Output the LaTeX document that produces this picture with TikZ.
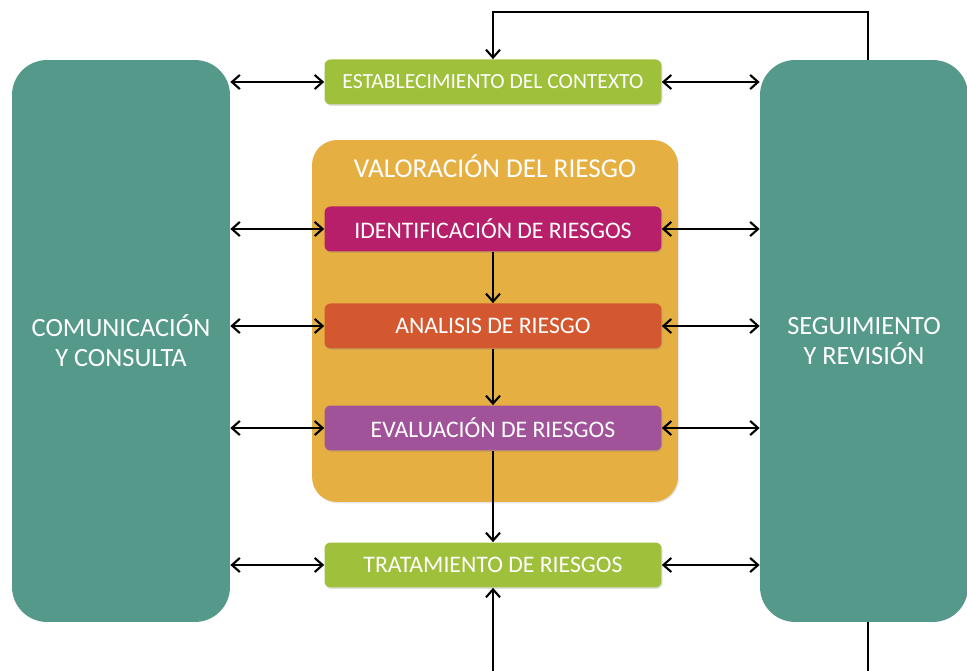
\documentclass[tikz,border=0pt]{standalone}
\usepackage{fontspec}
\setmainfont{Carlito}
\usetikzlibrary{arrows.meta,shadows}

\definecolor{sideteal}{HTML}{55998A}
\definecolor{stepgreen}{HTML}{9FC03A}
\definecolor{valorange}{HTML}{E6AF42}
\definecolor{identmag}{HTML}{B81F6A}
\definecolor{analred}{HTML}{D3582F}
\definecolor{evalpurple}{HTML}{A05399}

\tikzset{
    sidebox/.style={fill=sideteal, rounded corners=0.7cm, minimum width=4.36cm, minimum height=11.24cm,
        text=white, align=center, font=\fontsize{15}{17}\selectfont, inner sep=0pt},
    stepbox/.style={rounded corners=0.12cm, minimum width=6.74cm, minimum height=0.9cm, text=white,
        font=\fontsize{13.5}{15}\selectfont, inner sep=0pt,
        drop shadow={opacity=0.25, shadow xshift=0.6pt, shadow yshift=-0.8pt}},
    both/.style={line width=1.2pt, {Straight Barb[length=4.5pt,width=8pt]}-{Straight Barb[length=4.5pt,width=8pt]}},
    flow/.style={line width=1.2pt, -{Straight Barb[length=4.5pt,width=8pt]}}
}

\begin{document}
\begin{tikzpicture}[x=0.02cm, y=-0.02cm]
    \useasboundingbox (0,0) rectangle (967,671);

    % Side boxes
    \node[sidebox] (comun) at (121,341) {COMUNICACIÓN\\Y CONSULTA};
    \node[sidebox, minimum width=4.16cm] (segui) at (864,341) {SEGUIMIENTO\\Y REVISIÓN};

    % Risk assessment container
    \node[fill=valorange, rounded corners=0.5cm, minimum width=7.32cm, minimum height=7.24cm,
        drop shadow={opacity=0.2, shadow xshift=0.6pt, shadow yshift=-0.8pt}] (valor) at (495,321) {};
    \node[text=white, font=\fontsize{15.5}{17}\selectfont] (valtitle) at (495,166) {VALORACIÓN DEL RIESGO};

    % Process steps
    \node[stepbox, fill=stepgreen, font=\fontsize{12.3}{14}\selectfont] (estab) at (493,82) {ESTABLECIMIENTO DEL CONTEXTO};
    \node[stepbox, fill=identmag] (ident) at (493,229) {IDENTIFICACIÓN DE RIESGOS};
    \node[stepbox, fill=analred] (anal) at (493,326) {ANALISIS DE RIESGO};
    \node[stepbox, fill=evalpurple] (eval) at (493,428) {EVALUACIÓN DE RIESGOS};
    \node[stepbox, fill=stepgreen] (trat) at (493,565) {TRATAMIENTO DE RIESGOS};

    % Flow down the steps
    \draw[flow] (ident) -- (anal);
    \draw[flow] (anal) -- (eval);
    \draw[flow] (eval) -- (trat);

    % Links to the side boxes
    \foreach \n in {estab,ident,anal,eval,trat} {
        \draw[both] (comun.east |- \n.west) -- (\n.west);
        \draw[both] (\n.east) -- (segui.west |- \n.east);
    }

    % Feedback loop
    \coordinate (looptop) at (868,12);
    \coordinate (loopbot) at (493,671);
    \draw[flow] (segui.north -| looptop) -- (looptop) -| (estab.north);
    \draw[flow] (loopbot) -- (trat.south);
    \draw[line width=1.2pt] (segui.south -| looptop) -- (looptop |- loopbot);
\end{tikzpicture}
\end{document}
